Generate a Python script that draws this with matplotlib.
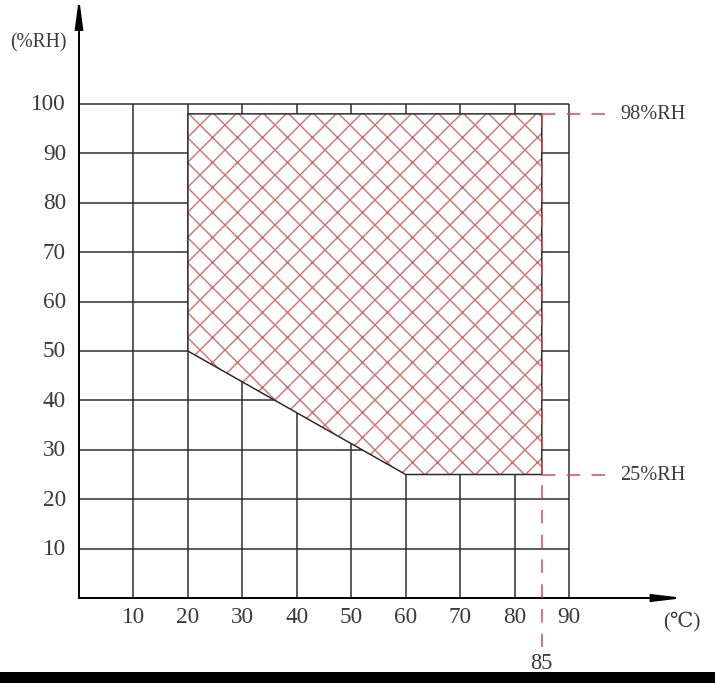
"""
Operating range chart: temperature vs relative humidity,
with the usable zone cross-hatched.
"""

import matplotlib
matplotlib.use("Agg")
import matplotlib.pyplot as plt
from matplotlib.patches import Polygon, Rectangle

# dpi picked so the 'xx' hatch spacing (dpi / 6 px) matches the original
DPI = 150


def pt(px):
    # pixel size -> points at DPI
    return px * 72 / DPI


plt.rcParams["hatch.linewidth"] = pt(1.35)
plt.rcParams["hatch.color"] = "#d46a6a"

SERIF = ["Liberation Serif", "DejaVu Serif", "Noto Sans CJK SC"]
TEXT_COLOR = "#3a3a3a"
GRID_COLOR = "#2a2a2a"
RED = "#d9474f"

# data
temp_ticks = [10, 20, 30, 40, 50, 60, 70, 80, 90]
rh_ticks = [10, 20, 30, 40, 50, 60, 70, 80, 90, 100]
zone_temp = [20, 85, 85, 60, 20]
zone_rh = [98, 98, 25, 25, 50]
rh_limits = [98, 25]
rh_limit_labels = ["98%RH", "25%RH"]
temp_limit = 85

fig = plt.figure(figsize=(715 / DPI, 684 / DPI), dpi=DPI)
fig.patch.set_facecolor("white")

# axes placed so that 0..90 / 0..100 land on the drawn grid
ax = fig.add_axes([79 / 715, (684 - 599) / 684, 490 / 715, 494 / 684])
ax.set_xlim(0, 90)
ax.set_ylim(0, 100)
ax.axis("off")

xmax, ymax = max(temp_ticks), max(rh_ticks)

# grid
for t in temp_ticks:
    ax.plot([t, t], [0, ymax], color=GRID_COLOR, lw=pt(1.5), zorder=1,
            solid_capstyle="butt", clip_on=False)
for r in rh_ticks:
    ax.plot([0, xmax], [r, r], color=GRID_COLOR, lw=pt(1.5), zorder=1,
            solid_capstyle="butt", clip_on=False)

# hatched operating zone
pts = list(zip(zone_temp, zone_rh))
ax.add_patch(Polygon(pts, closed=True, facecolor="white", edgecolor="#d46a6a",
                     hatch="xx", lw=0, zorder=2, clip_on=False))
ax.add_patch(Polygon(pts, closed=True, fill=False, edgecolor=GRID_COLOR,
                     lw=pt(1.5), zorder=3, clip_on=False))

# axes with arrow heads
ax.plot([0, 0], [0, 115.5], color="black", lw=pt(1.95), zorder=4, clip_on=False)
ax.fill([-0.6, 0, 0.6], [115, 120, 115], color="black", zorder=4, clip_on=False)
ax.plot([0, 105.5], [0, 0], color="black", lw=pt(1.95), zorder=4, clip_on=False)
ax.fill([105, 109.6, 105], [-0.6, 0, 0.6], color="black", zorder=4, clip_on=False)

# red dashed limit lines
dash = (9, 7.5)
for r, lab in zip(rh_limits, rh_limit_labels):
    ax.plot([temp_limit, 97.6], [r, r], color=RED, lw=pt(1.5), dashes=dash,
            zorder=5, clip_on=False)
    ax.text(99.4, r, lab, ha="left", va="center", fontsize=pt(20.25),
            family=SERIF, color=TEXT_COLOR)
ax.plot([temp_limit, temp_limit], [max(rh_limits), -10], color=RED,
        lw=pt(1.5), dashes=dash, zorder=5, clip_on=False)
ax.text(temp_limit, -13, str(temp_limit), ha="center", va="center",
        fontsize=pt(22.5), family=SERIF, color=TEXT_COLOR)

# tick labels
for t in temp_ticks:
    ax.text(t, -3.7, str(t), ha="center", va="center", fontsize=pt(23.25),
            family=SERIF, color=TEXT_COLOR)
for r in rh_ticks:
    ax.text(-2.4, r, str(r), ha="right", va="center", fontsize=pt(23.25),
            family=SERIF, color=TEXT_COLOR)

# axis units
ax.text(-7.5, 112.6, "(%RH)", ha="center", va="center", fontsize=pt(19.5),
        family=SERIF, color=TEXT_COLOR)
ax.text(110.8, -4.5, "(℃)", ha="center", va="center", fontsize=pt(21),
        family=SERIF, color=TEXT_COLOR)

# black band along the bottom edge
fig.patches.append(Rectangle((0, 0), 1, 11 / 684, transform=fig.transFigure,
                             facecolor="black", edgecolor="none", zorder=10))

fig.savefig("out.png", dpi=DPI, facecolor="white")
